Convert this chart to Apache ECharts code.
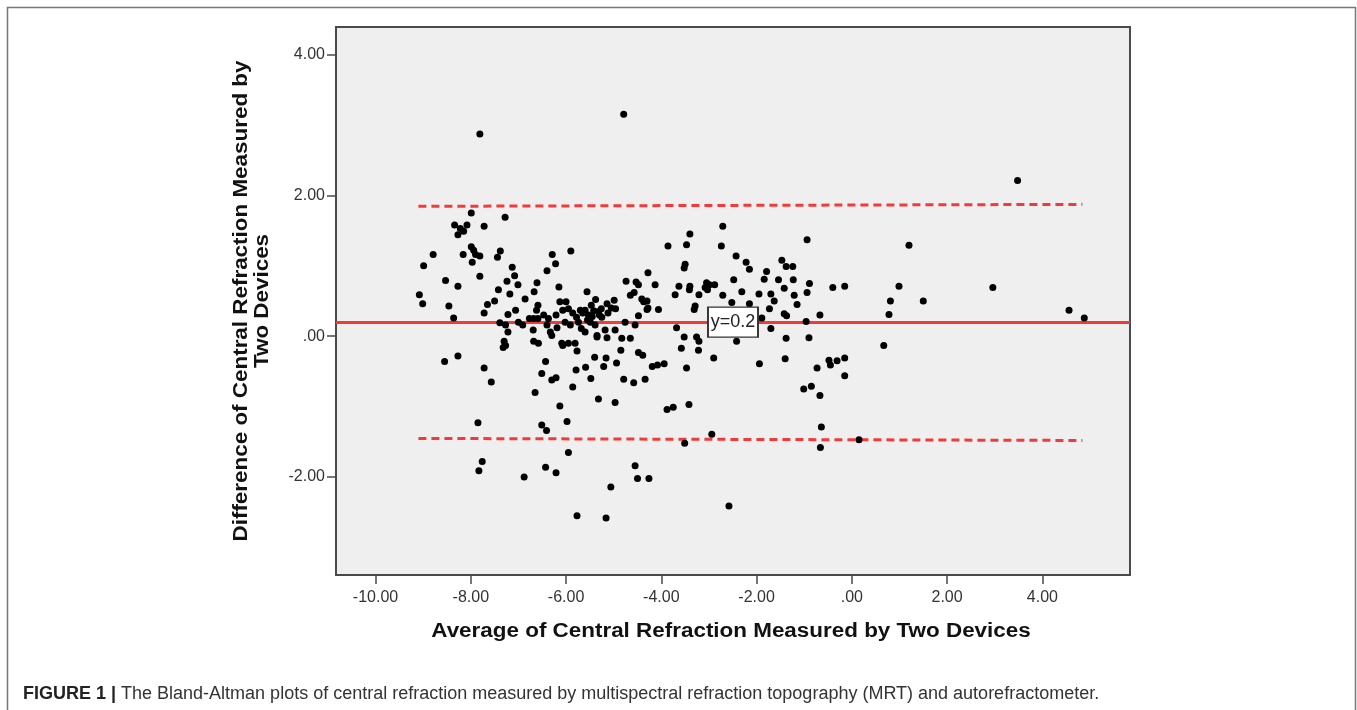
<!DOCTYPE html>
<html>
<head>
<meta charset="utf-8">
<script src="https://cdn.jsdelivr.net/npm/echarts@6/dist/echarts.min.js"></script>
<style>
html,body{margin:0;padding:0;background:#fff;}
#chart{width:1357px;height:710px;}
</style>
</head>
<body>
<div id="chart"></div>
<script>
// ---- data ----
const avgValues = [
-7.99,-7.28,-8.34,-8.08,-8.22,-8.15,-8.27,-7.72,-8.79,-8.99,-7.99,-7.94,-8.16,-7.81,-7.90,-7.97,-7.38,-7.44,-7.13,-7.08,
-7.24,-7.01,-7.18,-7.42,-7.81,-8.53,-8.27,-9.08,-9.01,-8.46,-8.36,-7.65,-7.50,-7.72,-6.29,-6.22,-6.40,-5.90,-6.61,-6.67,
-6.86,-6.59,-6.62,-6.15,-5.56,-6.13,-6.00,-6.07,-5.95,-4.74,-4.53,-4.48,-4.57,-4.65,-4.41,-4.48,-5.38,-5.14,-4.99,-4.96,
-5.26,-5.47,-5.60,-5.70,-5.53,-5.32,-7.39,-7.27,-7.22,-7.00,-6.91,-6.77,-6.68,-6.69,-6.59,-6.47,-6.37,-6.40,-6.33,-6.21,
-6.19,-6.02,-5.91,-5.74,-5.68,-5.60,-5.49,-5.39,-5.35,-5.18,-4.97,-4.83,-4.65,-4.55,-4.76,-7.30,-6.68,-6.58,-6.09,-5.95,
-5.81,
-2.71,-0.94,-3.40,-3.47,-3.86,-2.74,-2.43,-2.22,-2.15,-3.50,-3.52,-4.28,-4.13,-3.63,-3.40,-3.41,-3.71,-3.21,-3.05,-2.99,
-2.88,-3.08,-3.03,-2.71,-2.48,-2.31,-1.95,-1.79,-1.84,-1.47,-1.38,-1.24,-1.54,-1.42,-1.23,-1.70,-1.63,-1.73,-1.21,-1.15,
-0.89,-0.94,-0.40,-0.15,-0.67,-1.42,-1.37,-0.96,-1.70,-1.38,-0.90,-4.30,-4.28,-4.06,-3.29,-3.31,-2.52,-2.15,-1.89,-3.68,
-3.52,-3.26,-3.21,-2.42,0.67,
-8.55,-8.27,-7.72,-7.57,-7.27,-7.32,-6.43,-6.51,-6.30,-6.21,-6.65,-5.86,-5.79,-5.59,-5.40,-5.48,-5.16,-5.21,-4.94,-4.85,
-4.79,-4.58,-4.48,-4.39,-4.34,-5.32,-4.97,-6.13,-5.98,-6.51,-6.41,-7.85,-5.95,-7.76,-7.83,-6.88,-6.43,-6.21,-5.06,-4.55,
-4.50,-6.30,-6.07,-5.77,-5.35,-5.14,-5.77,-5.16,-4.26,-3.88,-3.75,-4.19,-4.08,-3.94,
-3.58,-3.22,-2.90,-3.47,-1.94,-1.40,-0.73,-0.48,-0.45,-0.31,-0.15,-0.15,-1.01,-0.85,-0.67,-3.42,-0.64,-2.94,-3.51,0.15,
-0.66,-2.58,
3.48,1.20,0.99,0.81,0.78,1.50,2.96,4.56,4.88,
-7.81,-4.79,
-4.37,-4.30,-7.06,-7.22,
-5.45,-5.42,-5.30,-5.25,-5.12,-5.05,-5.55,-5.78,-5.86,-5.65
];
const diffValues = [
1.75,1.69,1.58,1.58,1.53,1.49,1.44,1.56,1.16,1.00,1.27,1.22,1.16,1.14,1.16,1.05,1.21,1.12,0.98,0.86,
0.78,0.73,0.60,0.66,0.85,0.79,0.71,0.59,0.46,0.43,0.26,0.45,0.50,0.33,1.16,1.03,0.93,1.21,0.76,0.63,
0.53,0.44,0.37,0.70,0.63,0.49,0.49,0.37,0.39,0.78,0.77,0.73,0.62,0.58,0.53,0.29,0.52,0.46,0.51,0.39,
0.39,0.44,0.37,0.37,0.30,0.35,0.19,0.16,0.06,0.20,0.16,0.25,0.25,0.09,0.25,0.30,0.25,0.16,0.06,0.30,
0.12,0.20,0.16,0.20,0.11,0.06,0.20,0.16,0.01,0.09,0.09,-0.03,-0.03,0.16,0.20,-0.07,-0.07,-0.10,-0.10,-0.10,
-0.10,
1.56,1.37,1.45,1.30,1.28,1.28,1.14,1.05,0.95,1.02,0.97,0.90,0.73,0.71,0.71,0.66,0.59,0.59,0.76,0.73,
0.73,0.69,0.66,0.58,0.80,0.63,0.60,0.92,0.81,1.08,0.99,0.99,0.80,0.68,0.80,0.60,0.50,0.39,0.58,0.45,
0.75,0.62,0.69,0.71,0.30,0.32,0.29,0.21,0.11,-0.03,-0.02,0.50,0.40,0.38,0.43,0.38,0.48,0.46,0.26,0.12,
-0.01,-0.01,-0.07,-0.07,-0.13,
-0.36,-0.28,-0.45,-0.65,-0.13,-0.16,-0.36,-0.53,-0.62,-0.59,-0.80,-0.72,-0.48,-0.44,-0.30,-0.60,-0.31,-0.43,-0.38,-0.20,
-0.61,-0.66,-0.23,-0.27,-0.61,-0.89,-0.94,-0.99,-1.21,-1.26,-1.34,-1.23,-1.65,-1.78,-1.91,-2.00,-1.86,-1.94,-2.14,-1.84,
-2.02,0.01,-0.13,-0.21,-0.01,-0.02,-2.55,-2.58,-2.02,-1.04,-1.01,-0.43,-0.41,-0.39,
-0.17,-0.20,-0.31,-0.45,-0.39,-0.32,-0.45,-0.34,-0.41,-0.35,-0.31,-0.56,-0.75,-0.71,-0.84,-0.97,-1.29,-1.39,-1.52,-1.47,
-1.58,-2.41,
2.21,1.29,0.71,0.50,0.31,0.50,0.69,0.37,0.26,
2.87,3.15,
0.49,0.38,0.37,0.31,
0.28,0.36,0.30,0.27,0.33,0.40,0.23,0.27,0.33,0.33
];
const meanDiff = 0.2;
const meanLabel = 'y=0.2';
const upperLoA = [[-9.10, 1.844], [4.84, 1.872]];
const lowerLoA = [[-9.10, -1.451], [4.84, -1.480]];
const xTickValues = [-10, -8, -6, -4, -2, 0, 2, 4];
const xTickLabels = ['-10.00', '-8.00', '-6.00', '-4.00', '-2.00', '.00', '2.00', '4.00'];
const yTickValues = [-2, 0, 2, 4];
const yTickLabels = ['-2.00', '.00', '2.00', '4.00'];
const xRange = [-10.83, 5.84];
const yRange = [-3.39, 4.39];
const xTitle = 'Average of Central Refraction Measured by Two Devices';
const yTitle = 'Difference of Central Refraction Measured by\nTwo Devices';
const captionBold = 'FIGURE 1 |';
const captionText = ' The Bland-Altman plots of central refraction measured by multispectral refraction topography (MRT) and autorefractometer.';

// ---- chart ----
const points = avgValues.map((x, i) => [x, diffValues[i]]);
const FONT = "'Liberation Sans', Arial, Helvetica, sans-serif";
const red = '#f23a3a';
const chart = echarts.init(document.getElementById('chart'), null, {renderer: 'canvas'});

const option = {
  animation: false,
  backgroundColor: '#ffffff',
  grid: {
    left: 336, right: 227, top: 27, bottom: 135,
    show: true, backgroundColor: '#efefef', borderColor: '#4a4a4a', borderWidth: 2
  },
  xAxis: {
    type: 'value', min: xRange[0], max: xRange[1],
    splitLine: {show: false},
    axisLine: {show: true, onZero: false, lineStyle: {color: '#4a4a4a', width: 2}},
    axisTick: {show: true, customValues: xTickValues, length: 9, lineStyle: {color: '#4a4a4a', width: 1.5}},
    axisLabel: {
      show: true, customValues: xTickValues, margin: 15, fontSize: 16, color: '#333', fontFamily: FONT,
      formatter: v => xTickLabels[xTickValues.indexOf(Math.round(v))] || ''
    }
  },
  yAxis: {
    type: 'value', min: yRange[0], max: yRange[1],
    splitLine: {show: false},
    axisLine: {show: true, onZero: false, lineStyle: {color: '#4a4a4a', width: 2}},
    axisTick: {show: true, customValues: yTickValues, length: 9, lineStyle: {color: '#4a4a4a', width: 1.5}},
    axisLabel: {
      show: true, customValues: yTickValues, margin: 11, fontSize: 16, color: '#333', fontFamily: FONT,
      formatter: v => yTickLabels[yTickValues.indexOf(Math.round(v))] || ''
    }
  },
  series: [
    {
      type: 'line', data: upperLoA, symbol: 'none', silent: true, z: 2,
      lineStyle: {color: red, width: 3, type: [8, 5]}
    },
    {
      type: 'line', data: lowerLoA, symbol: 'none', silent: true, z: 2,
      lineStyle: {color: red, width: 3, type: [8, 5]}
    },
    {
      type: 'scatter', data: points, symbol: 'circle', symbolSize: 7, z: 3,
      itemStyle: {color: '#000', opacity: 1},
      markLine: {
        silent: true, symbol: 'none', z: 2,
        label: {show: false},
        lineStyle: {color: red, width: 3, type: 'solid'},
        data: [{yAxis: meanDiff}]
      },
      markPoint: {
        silent: true, z: 10,
        data: [{
          coord: [(xRange[0] + xRange[1]) / 2, meanDiff],
          symbol: 'rect', symbolSize: [50, 30],
          itemStyle: {color: '#ffffff', borderColor: '#333', borderWidth: 1.5},
          label: {show: true, position: 'inside', formatter: meanLabel, color: '#222', fontSize: 18, fontFamily: FONT}
        }]
      }
    }
  ],
  graphic: [
    {
      type: 'rect', silent: true, z: 0,
      shape: {x: 7.5, y: 7.5, width: 1348, height: 730},
      style: {fill: 'none', stroke: '#777', lineWidth: 1.5}
    },
    {
      type: 'text', x: 731, y: 632, scaleX: 1.15, silent: true,
      style: {text: xTitle, font: 'bold 19.5px ' + FONT, fill: '#111', textAlign: 'center', textVerticalAlign: 'middle'}
    },
    {
      type: 'text', x: 252.5, y: 301, rotation: Math.PI / 2, scaleX: 1.15, silent: true,
      style: {text: yTitle, font: 'bold 19.5px ' + FONT, fill: '#111', textAlign: 'center', textVerticalAlign: 'middle', lineHeight: 21}
    },
    {
      type: 'text', x: 23, y: 694, silent: true,
      style: {
        text: '{b|' + captionBold + '}{n|' + captionText + '}',
        textVerticalAlign: 'middle',
        rich: {
          b: {font: 'bold 18px ' + FONT, fill: '#222'},
          n: {font: '18px ' + FONT, fill: '#333'}
        }
      }
    }
  ]
};
chart.setOption(option);
</script>
</body>
</html>
